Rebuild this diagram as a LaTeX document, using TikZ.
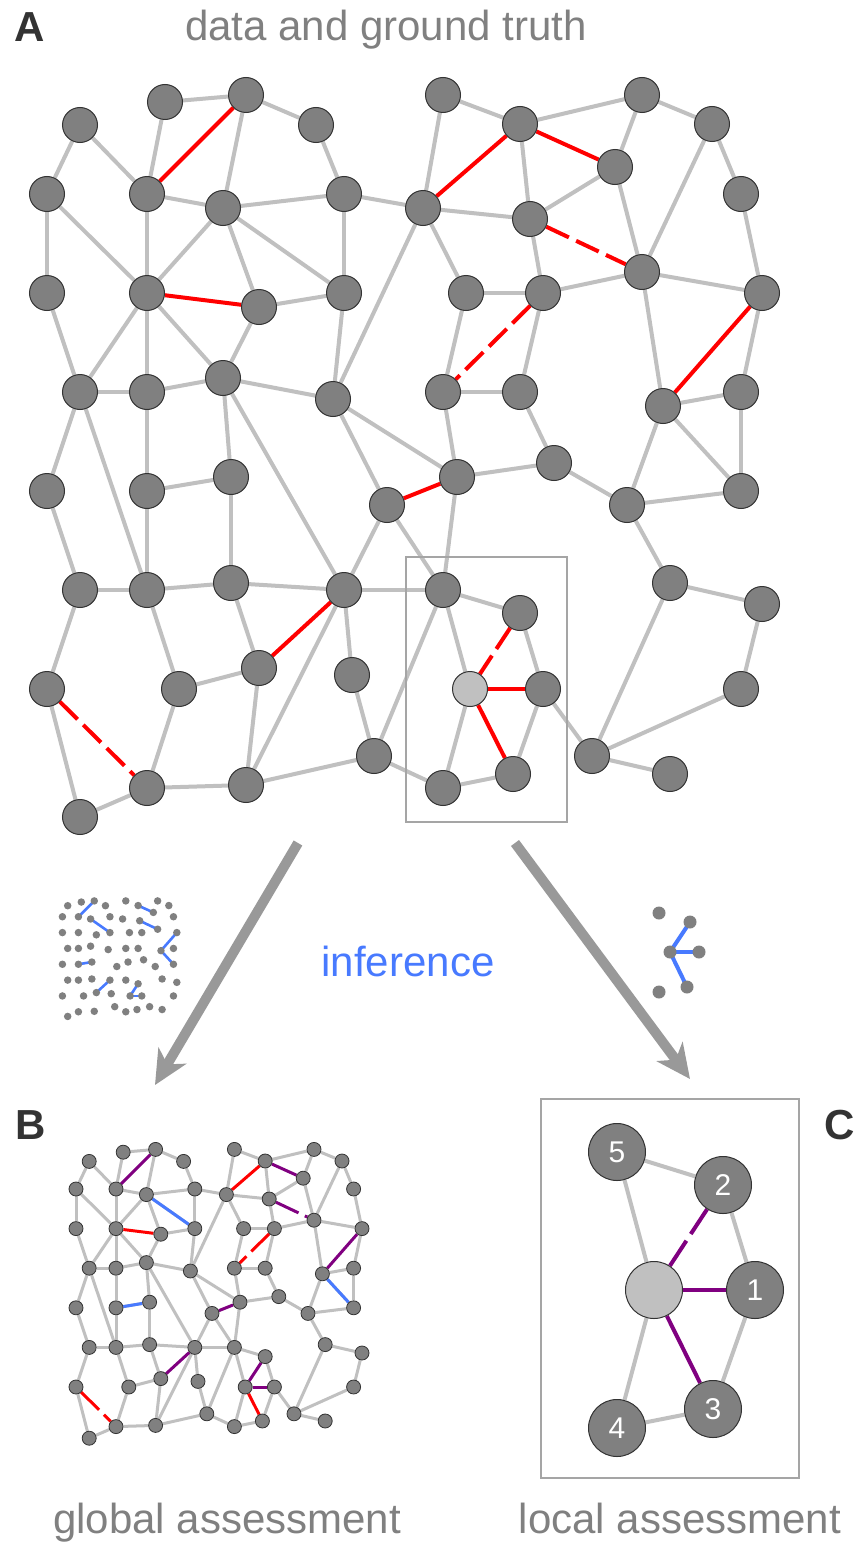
\documentclass[tikz,border=0pt]{standalone}
\usepackage{fontspec}
\setmainfont{Liberation Sans}
\usetikzlibrary{arrows.meta,backgrounds}
\pgfdeclarelayer{paper}
\pgfsetlayers{paper,background,main}
\definecolor{ndfill}{RGB}{128,128,128}
\definecolor{ndline}{RGB}{51,51,51}
\definecolor{edgegray}{RGB}{192,192,192}
\definecolor{truered}{RGB}{255,0,0}
\definecolor{infpurple}{RGB}{128,0,128}
\definecolor{infblue}{RGB}{72,122,255}
\definecolor{boxgray}{RGB}{165,165,165}
\definecolor{txtgray}{RGB}{128,128,128}
\definecolor{lbldark}{RGB}{51,51,51}
\definecolor{arrgray}{RGB}{153,153,153}
\definecolor{focusfill}{RGB}{192,192,192}
\tikzset{
  ndA/.style={circle, fill=ndfill, draw=ndline, line width=1pt, minimum size=35pt, inner sep=0pt},
  ndB/.style={circle, fill=ndfill, draw=ndline, line width=0.8pt, minimum size=14pt, inner sep=0pt},
  ndC/.style={circle, fill=ndfill, draw=ndline, line width=1pt, minimum size=57pt, inner sep=0pt, text=white, font=\fontsize{30}{30}\selectfont},
  dotI/.style={circle, fill=ndfill, minimum size=7.5pt, inner sep=0pt},
  dotR/.style={circle, fill=ndfill, minimum size=13pt, inner sep=0pt},
  geA/.style={edgegray, line width=4pt},
  geB/.style={edgegray, line width=3pt},
  redA/.style={truered, line width=4pt},
  redAd/.style={truered, line width=4pt, dash pattern=on 25pt off 8pt},
  redB/.style={truered, line width=3pt},
  redBd/.style={truered, line width=3pt, dash pattern=on 25pt off 7pt},
  purB/.style={infpurple, line width=3pt},
  purBd/.style={infpurple, line width=3pt, dash pattern=on 25pt off 7pt},
  bluB/.style={infblue, line width=3pt},
  bluI/.style={infblue, line width=2.6pt},
  bluR/.style={infblue, line width=4pt},
  purC/.style={infpurple, line width=4pt},
  purCd/.style={infpurple, line width=4pt, dash pattern=on 30pt off 8pt},
  frame/.style={boxgray, line width=1.5pt},
  bigarrow/.style={arrgray, line width=10pt, -{Stealth[length=34pt,width=32pt,inset=10pt]}},
  paneltag/.style={text=lbldark, font=\fontsize{42}{42}\selectfont\bfseries},
  caption/.style={text=txtgray, font=\fontsize{42}{42}\selectfont, anchor=base},
}
\def\Anodes{a1/80/125,a2/165/102,a3/246/95,a4/316/125,a5/47/194,a6/147/194,a7/223/208,a8/344/194,a9/423/208,%
a10/47/293,a11/147/293,a12/259/307,a13/344/293,a14/80/392,a15/147/392,a16/223/378,a17/333/399,%
b1/443/95,b2/520/124,b3/642/95,b4/712/124,b5/615/167,b6/741/194,b7/530/219,b8/642/272,b9/466/293,b10/543/293,b11/762/293,%
b12/443/392,b13/520/392,b14/663/406,b15/741/392,b16/554/463,b17/457/477,%
c1/387/505,c2/627/505,c3/741/491,c4/443/590,c5/520/613,c7/543/689,c8/670/583,c9/762/604,c10/741/689,c11/592/756,c12/670/774,c13/443/788,c14/513/774,%
d1/47/491,d2/147/491,d3/231/477,d4/80/590,d5/147/590,d6/231/583,d7/344/590,d8/259/668,d9/352/675,d10/47/689,d11/179/689,d12/374/756,d13/147/788,d14/246/785,d15/80/817}
\def\GE{a1/a5,a1/a6,a2/a3,a2/a6,a3/a4,a3/a7,a4/a8,a5/a10,a5/a11,a6/a7,a6/a11,a7/a8,a7/a11,a7/a12,a7/a13,a8/a13,a8/a9,a9/a17,a12/a13,a12/a16,a10/a14,a11/a14,a11/a15,a11/a16,a13/a17,a14/a15,a15/a16,a16/a17,%
b1/b2,b1/a9,b2/b3,b2/b7,b3/b4,b3/b5,b4/b8,b4/b6,b5/b7,b5/b8,b7/a9,b7/b10,b6/b11,b8/b10,b8/b11,b8/b14,a9/b9,b9/b10,b9/b12,b10/b13,b11/b15,b12/b13,b12/b17,b13/b16,b14/b15,b14/c2,b14/c3,b15/c3,a17/b17,%
b17/b16,b17/c4,b16/c2,c2/c3,c2/c8,c8/c9,c8/c11,c9/c10,c10/c11,c11/c12,c7/c11,c4/c5,c4/c6,c4/d12,d7/c4,c1/c4,c5/c7,c6/c13,c7/c14,c13/c14,d12/c13,%
a14/d1,a14/d5,a15/d2,a16/d3,a16/d7,a17/c1,d2/d3,d2/d5,d3/d6,d1/d4,d4/d5,d5/d6,d6/d7,d7/c1,d4/d10,d5/d11,d6/d8,d7/d9,d7/d14,d8/d11,d8/d14,d9/d12,d10/d15,d11/d13,d13/d14,d13/d15,d14/d12}
\def\RedA{a3/a6,a11/a12,a9/b2,b2/b5,b11/b14,c1/b17,d7/d8,c6/c7,c6/c14}
\def\RedAd{b7/b8,b10/b12,d10/d13,c5/c6}
\def\PurB{a3/a6,c1/b17,d7/d8,b2/b5,b11/b14,c6/c7}
\def\PurBd{b7/b8,c5/c6}
\def\RedB{a11/a12,a9/b2,c6/c14}
\def\RedBd{d10/d13,b10/b12}
\def\BluB{a7/a13,d2/d3,b14/c3}
\def\BluI{a3/a6,a7/a13,d2/d3,b2/b5,b7/b8,b11/b14,b14/c3,d7/d8,c5/c6,c6/c7}
\begin{document}
\begin{tikzpicture}[x=1pt,y=-1pt]
\useasboundingbox (0,0) rectangle (858,1544);
\begin{pgfonlayer}{paper}
\fill[white] (0,0) rectangle (858,1544);
\end{pgfonlayer}

% ---------- Panel A ----------
\foreach \n/\x/\y in \Anodes {\node[ndA] (A\n) at (\x,\y) {};}
\node[ndA, fill=focusfill] (Ac6) at (470,689) {};
\begin{pgfonlayer}{background}
  \foreach \u/\v in \GE {\draw[geA] (A\u) -- (A\v);}
  \foreach \u/\v in \RedA {\draw[redA] (A\u) -- (A\v);}
  \foreach \u/\v in \RedAd {\draw[redAd] (A\u) -- (A\v);}
  \draw[frame] (406,557) rectangle (567,822);
\end{pgfonlayer}

% ---------- Panel B ----------
\begin{scope}[shift={(57.2,1111.4)}, x=0.4pt, y=-0.4pt]
  \foreach \n/\x/\y in \Anodes {\node[ndB] (B\n) at (\x,\y) {};}
  \node[ndB] (Bc6) at (470,689) {};
\end{scope}
\begin{pgfonlayer}{background}
  \foreach \u/\v in \GE {\draw[geB] (B\u) -- (B\v);}
  \foreach \u/\v in \PurB {\draw[purB] (B\u) -- (B\v);}
  \foreach \u/\v in \PurBd {\draw[purBd] (B\u) -- (B\v);}
  \foreach \u/\v in \RedB {\draw[redB] (B\u) -- (B\v);}
  \foreach \u/\v in \RedBd {\draw[redBd] (B\u) -- (B\v);}
  \foreach \u/\v in \BluB {\draw[bluB] (B\u) -- (B\v);}
\end{pgfonlayer}

% ---------- small global icon ----------
\begin{scope}[shift={(54.9,885.7)}, x=0.16pt, y=-0.16pt]
  \foreach \n/\x/\y in \Anodes {\node[dotI] (I\n) at (\x,\y) {};}
  \node[dotI] (Ic6) at (470,689) {};
\end{scope}
\begin{pgfonlayer}{background}
  \foreach \u/\v in \BluI {\draw[bluI] (I\u.center) -- (I\v.center);}
\end{pgfonlayer}

% ---------- small local icon ----------
\node[dotR] (R5) at (659,913) {};
\node[dotR] (R2) at (690,922) {};
\node[dotR] (Rf) at (670,952) {};
\node[dotR] (R1) at (699,952) {};
\node[dotR] (R3) at (687,987) {};
\node[dotR] (R4) at (659,992) {};
\begin{pgfonlayer}{background}
  \draw[bluR] (Rf.center) -- (R2.center);
  \draw[bluR] (Rf.center) -- (R1.center);
  \draw[bluR] (Rf.center) -- (R3.center);
\end{pgfonlayer}

% ---------- Panel C ----------
\node[ndC, fill=focusfill] (Cf) at (654,1290) {};
\node[ndC] (C1) at (755,1290) {1};
\node[ndC] (C2) at (723,1185) {2};
\node[ndC] (C3) at (713,1409) {3};
\node[ndC] (C4) at (617,1428) {4};
\node[ndC] (C5) at (617,1152) {5};
\begin{pgfonlayer}{background}
  \draw[frame] (541,1099) rectangle (799,1478);
  \draw[geA] (C5) -- (C2);
  \draw[geA] (C5) -- (Cf);
  \draw[geA] (C2) -- (C1);
  \draw[geA] (Cf) -- (C4);
  \draw[geA] (C1) -- (C3);
  \draw[geA] (C3) -- (C4);
  \draw[purC] (Cf) -- (C1);
  \draw[purC] (Cf) -- (C3);
  \draw[purCd] (Cf) -- (C2);
\end{pgfonlayer}

% ---------- arrows ----------
\coordinate (gS) at (298,843);
\coordinate (gT) at (155,1085);
\coordinate (lS) at (515,843);
\coordinate (lT) at (690,1079);
\draw[bigarrow] (gS) -- (gT);
\draw[bigarrow] (lS) -- (lT);

% ---------- texts ----------
\node[paneltag] (tagA) at (30,27) {A};
\node[paneltag] (tagB) at (31,1125) {B};
\node[paneltag] (tagC) at (840,1125) {C};
\node[caption] (tA) at (386,41) {data and ground truth};
\node[caption, text=infblue] (tInf) at (408,976) {inference};
\node[caption] (tB) at (227,1533) {global assessment};
\node[caption] (tC) at (680,1533) {local assessment};
\end{tikzpicture}
\end{document}
